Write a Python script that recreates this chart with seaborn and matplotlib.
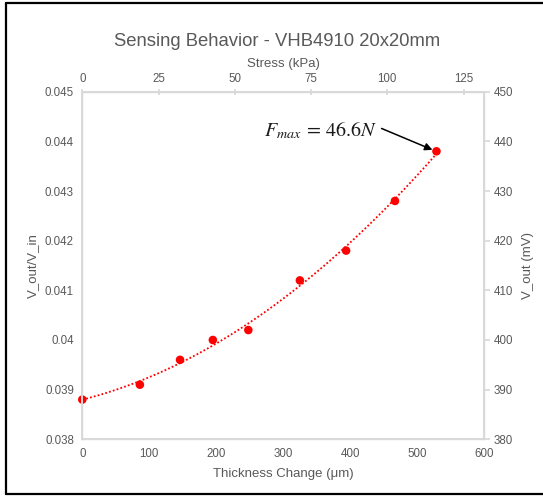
import numpy as np
import pandas as pd
import matplotlib
matplotlib.use("Agg")
import matplotlib.pyplot as plt
from matplotlib.lines import Line2D
import seaborn as sns

# ---- data ----
thickness_um = [0, 86, 146, 195, 248, 325, 394, 467, 529]
v_ratio = [0.0388, 0.0391, 0.0396, 0.0400, 0.0402, 0.0412, 0.0418, 0.0428, 0.0438]
left_ticks = [0.038, 0.039, 0.040, 0.041, 0.042, 0.043, 0.044, 0.045]
left_ticklabels = ["0.038", "0.039", "0.04", "0.041", "0.042", "0.043", "0.044", "0.045"]
right_ticks = [380, 390, 400, 410, 420, 430, 440, 450]
bottom_ticks = [0, 100, 200, 300, 400, 500, 600]
top_ticks = [0, 25, 50, 75, 100, 125]
top_max = 131.7

title = "Sensing Behavior - VHB4910 20x20mm"
annotation = r"$F_{max}\,=\,46.6N$"

sns.set_theme(style="white")
plt.rcParams['font.family'] = ['Liberation Sans', 'DejaVu Sans']
plt.rcParams['mathtext.fontset'] = 'stix'

GRAY = "#595959"
SPINE = "#d9d9d9"
RED = "#ff0000"

df = pd.DataFrame({"thickness": thickness_um, "ratio": v_ratio})

fig = plt.figure(figsize=(5.43, 4.97), dpi=100)
ax = fig.add_axes([82.3/543, 1-439.3/497, (484-82.3)/543, (439.3-91.7)/497])

sns.regplot(data=df, x="thickness", y="ratio", order=2, ci=None, ax=ax,
            scatter_kws=dict(s=38, color=RED, alpha=1, edgecolors="none", zorder=5, clip_on=False),
            line_kws=dict(color=RED, linestyle=(0, (1, 1.2)), linewidth=1.3, zorder=2))

ax.set_xlim(0, 600)
ax.set_ylim(0.038, 0.045)
ax.set_xticks(bottom_ticks)
ax.set_yticks(left_ticks)
ax.set_yticklabels(left_ticklabels)
ax.set_xlabel("Thickness Change (μm)", color=GRAY, fontsize=9.5, labelpad=6)
ax.set_ylabel("V_out/V_in", color=GRAY, fontsize=9.5, labelpad=4)
ax.tick_params(axis="both", colors=GRAY, labelsize=8.3, length=0, pad=6)
for s in ax.spines.values():
    s.set_color(SPINE)
    s.set_linewidth(1)

# right axis
axr = ax.twinx()
axr.set_ylim(380, 450)
axr.set_yticks(right_ticks)
axr.set_ylabel("V_out (mV)", color=GRAY, fontsize=9.5, labelpad=6)
axr.tick_params(axis="y", colors=GRAY, labelsize=8.3, length=4, direction="out", pad=3)
axr.tick_params(axis="y", color=SPINE)
for s in axr.spines.values():
    s.set_color(SPINE)

# top axis
axt = ax.twiny()
axt.set_xlim(0, top_max)
axt.set_xticks(top_ticks)
axt.set_xlabel("Stress (kPa)", color=GRAY, fontsize=9.5, labelpad=4)
axt.tick_params(axis="x", colors=GRAY, labelsize=8.3, length=4, direction="inout", pad=3)
axt.tick_params(axis="x", color=SPINE)
for s in axt.spines.values():
    s.set_color(SPINE)

fig.text(277/543, 1-41.5/497, title, ha="center", va="center", color=GRAY, fontsize=13.3)

ax.text(377/543*0 + 440, 0.04421, annotation, ha="right", va="center",
        fontsize=14.5, color="#1a1a1a", transform=ax.transData)
ax.annotate("", xy=(523, 0.04383), xytext=(447, 0.04426),
            arrowprops=dict(arrowstyle="-|>", color="black", lw=1.1,
                            shrinkA=0, shrinkB=0, mutation_scale=11))

# screenshot frame
for (x0, y0, x1, y1) in [(6, 3, 6, 494), (6, 3, 543, 3), (6, 494, 543, 494)]:
    fig.add_artist(Line2D([x0/543, x1/543], [1-y0/497, 1-y1/497], color="black", lw=1.6,
                          transform=fig.transFigure))

fig.savefig("out.png", dpi=100, facecolor="white")
